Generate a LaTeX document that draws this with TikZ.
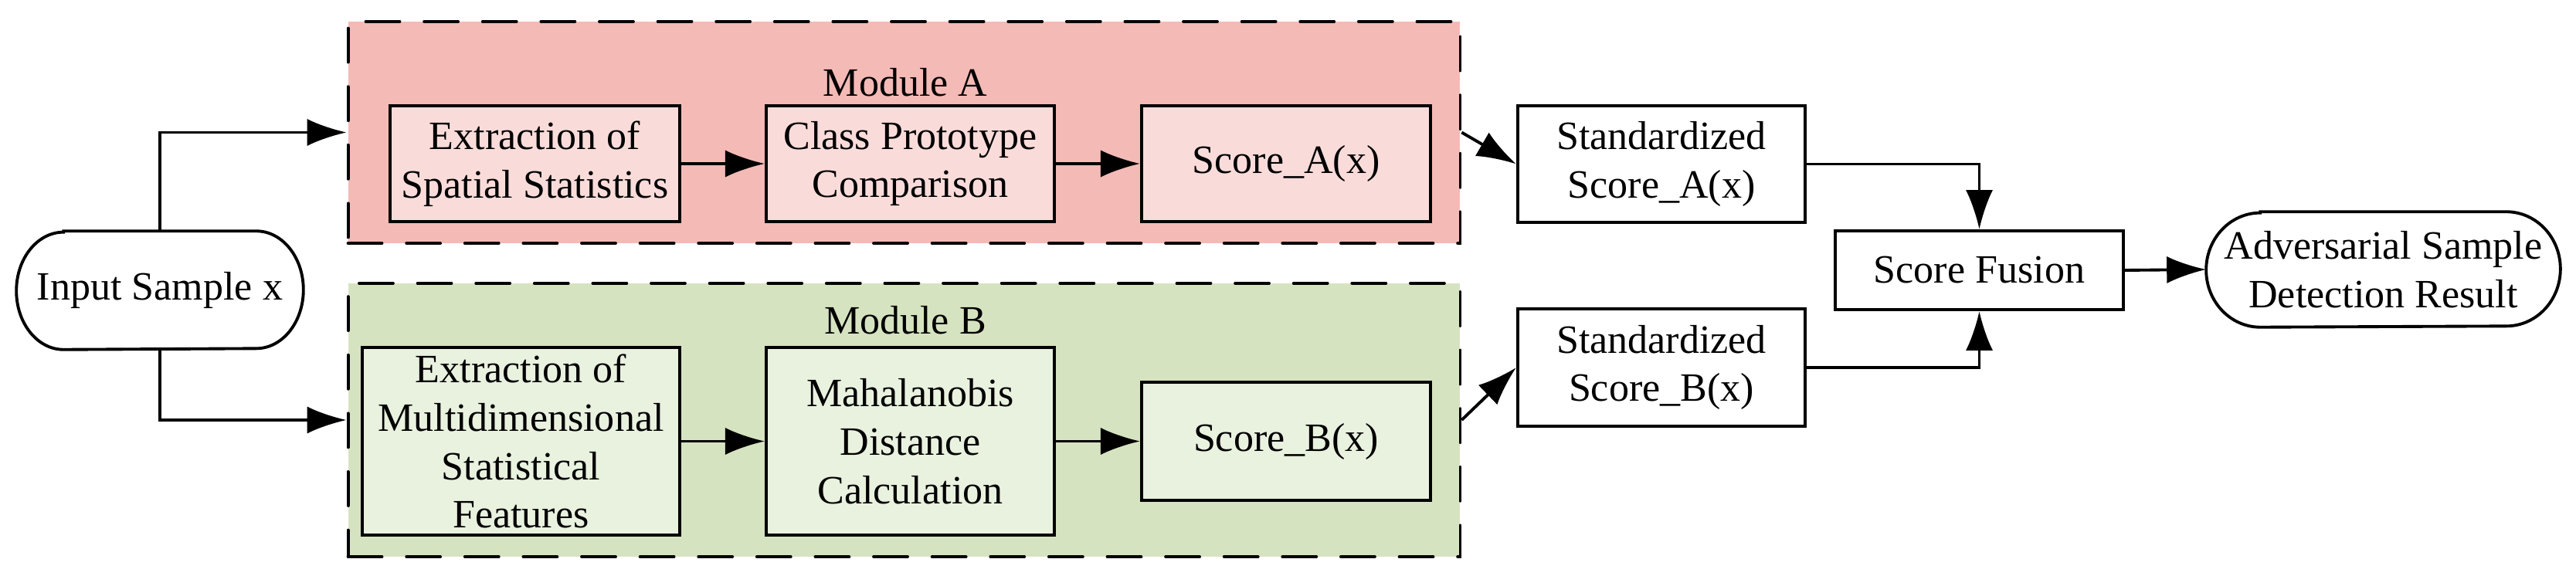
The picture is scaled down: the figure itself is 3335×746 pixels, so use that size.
\documentclass[tikz,border=0pt]{standalone}
\usepackage{fontspec}
\setmainfont{Liberation Serif}
\usetikzlibrary{arrows.meta}
\definecolor{modA}{RGB}{244,186,182}
\definecolor{boxA}{RGB}{249,220,218}
\definecolor{modB}{RGB}{214,227,192}
\definecolor{boxB}{RGB}{233,241,223}
\begin{document}
\begin{tikzpicture}[x=0.01cm,y=-0.01cm,
  txt/.style={font=\fontsize{14.8}{17.9}\selectfont, align=center, inner sep=0pt},
  blk/.style={txt, draw, line width=1.1pt, fill=white},
  blkA/.style={blk, fill=boxA},
  blkB/.style={blk, fill=boxB},
  module/.style={draw, line width=1.1pt, dash pattern=on 12.5pt off 9pt, line cap=round, inner sep=0pt},
  outline/.style={line width=1.1pt},
  arr/.style={line width=1.1pt, -{Latex[length=14.5pt,width=10pt]}},
]
\useasboundingbox (0,0) rectangle (3335,746);

% modules
\node[module, fill=modA, minimum width=14.39cm, minimum height=2.87cm] (modA) at (1170.5,171.5) {};
\node[module, fill=modB, minimum width=14.39cm, minimum height=3.54cm] (modB) at (1170.5,544) {};
\node[txt, anchor=base] (labA) at (1172,125) {Module A};
\node[txt, anchor=base] (labB) at (1172,433) {Module B};

% module A blocks
\node[blkA, minimum width=3.75cm, minimum height=1.50cm] (extA) at (692.5,212) {Extraction of\\Spatial Statistics};
\node[blkA, minimum width=3.73cm, minimum height=1.50cm] (classA) at (1178.5,212) {Class Prototype\\Comparison};
\node[blkA, minimum width=3.74cm, minimum height=1.50cm] (scoreA) at (1665,212) {Score\_A(x)};

% module B blocks
\node[blkB, minimum width=4.11cm, minimum height=2.43cm] (extB) at (674.5,571.5) {Extraction of\\Multidimensional\\Statistical\\Features};
\node[blkB, minimum width=3.73cm, minimum height=2.43cm] (mahal) at (1178.5,571.5) {Mahalanobis\\Distance\\Calculation};
\node[blkB, minimum width=3.74cm, minimum height=1.53cm] (scoreB) at (1665,571.5) {Score\_B(x)};

% right side
\node[blk, minimum width=3.72cm, minimum height=1.51cm] (stdA) at (2151,212.5) {Standardized\\Score\_A(x)};
\node[blk, minimum width=3.72cm, minimum height=1.52cm] (stdB) at (2151,476) {Standardized\\Score\_B(x)};
\node[blk, minimum width=3.73cm, minimum height=1.02cm] (fusion) at (2562.5,350) {Score Fusion};

% terminals
\node[txt, minimum width=3.70cm, minimum height=1.52cm] (in) at (207,376) {Input Sample x};
\draw[outline] ([xshift=0.61cm]in.north west) -- ([xshift=-0.61cm]in.north east)
  arc[start angle=90,end angle=-90,x radius=0.61cm,y radius=0.76cm]
  -- ([xshift=0.61cm]in.south west)
  arc[start angle=270,end angle=90,x radius=0.61cm,y radius=0.76cm] -- cycle;
\node[txt, minimum width=4.57cm, minimum height=1.48cm] (res) at (3085.5,349) {Adversarial Sample\\Detection Result};
\draw[outline] ([xshift=0.70cm]res.north west) -- ([xshift=-0.70cm]res.north east)
  arc[start angle=90,end angle=-90,x radius=0.70cm,y radius=0.74cm]
  -- ([xshift=0.70cm]res.south west)
  arc[start angle=270,end angle=90,x radius=0.70cm,y radius=0.74cm] -- cycle;

% connectors
\draw[arr] (in.north) |- (modA.west);
\draw[arr] (in.south) |- (modB.west);
\draw[arr] (extA.east) -- (classA.west);
\draw[arr] (classA.east) -- (scoreA.west);
\draw[arr] (extB.east) -- (mahal.west);
\draw[arr] (mahal.east) -- (scoreB.west);
\draw[arr] (modA.east) -- (stdA.west);
\draw[arr] (modB.east) -- (stdB.west);
\draw[arr] (stdA.east) -| (fusion.north);
\draw[arr] (stdB.east) -| (fusion.south);
\draw[arr] (fusion.east) -- (res.west);
\end{tikzpicture}
\end{document}
